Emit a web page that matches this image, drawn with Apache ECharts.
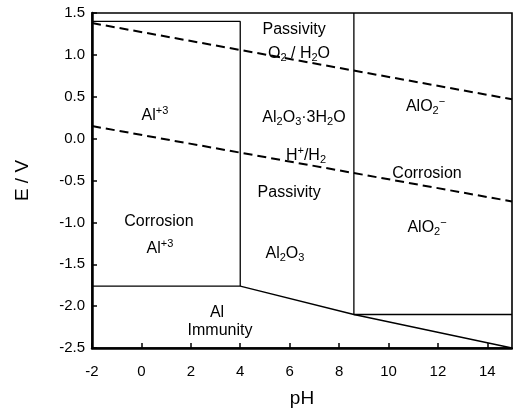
<!DOCTYPE html>
<html>
<head>
<meta charset="utf-8">
<style>
  html, body { margin: 0; padding: 0; background: #fff; }
  #chart { width: 513px; height: 411px; }
</style>
<script src="https://cdn.jsdelivr.net/npm/echarts@6/dist/echarts.min.js"></script>
</head>
<body>
<div id="chart"></div>
<script>
// ---- data (pH, E/V) ----
const xTicksRange = [-2, 15];
const yTicksRange = [-2.5, 1.5];

// solid phase boundaries
const boundaryAl3Box = [[-2, 1.40], [4, 1.40], [4, -1.76]];
const boundaryImmunity = [[-2, -1.76], [4, -1.76], [8.6, -2.10], [15, -2.50]];
const boundaryAlO2Box = [[8.6, 1.50], [8.6, -2.10], [15, -2.10]];

// water stability lines (dashed)
const lineO2H2O = [[-2, 1.38], [15, 0.47]];
const lineHH2 = [[-2, 0.15], [15, -0.75]];

// region labels
const labelTexts = [
  '{n|Al}{sup|+3}',
  '{n|Passivity}',
  '{n|O}{sub|2}{n| / H}{sub|2}{n|O}',
  '{n|Al}{sub|2}{n|O}{sub|3}{n|·3H}{sub|2}{n|O}',
  '{n|H}{sup|+}{n|/H}{sub|2}',
  '{n|Passivity}',
  '{n|AlO}{sub|2}{sup|−}',
  '{n|Corrosion}',
  '{n|AlO}{sub|2}{sup|−}',
  '{n|Al}{sub|2}{n|O}{sub|3}',
  '{n|Corrosion}',
  '{n|Al}{sup|+3}',
  '{n|Al}',
  '{n|Immunity}'
];
const labelX = [0.55, 6.18, 6.38, 6.58, 6.66, 5.98, 11.5, 11.56, 11.56, 5.81, 0.71, 0.75, 3.06, 3.18];
const labelY = [0.28, 1.30, 1.02, 0.25, -0.20, -0.64, 0.38, -0.42, -1.06, -1.37, -0.99, -1.31, -2.08, -2.29];

const FONT = '"Liberation Sans", Arial, Helvetica, sans-serif';

const labelData = labelTexts.map((t, i) => ({ value: [labelX[i], labelY[i]], txt: t }));

const chart = echarts.init(document.getElementById('chart'));
const solid = { color: '#000', width: 1.3, type: 'solid' };
const dashed = { color: '#000', width: 2, type: [9, 5] };

chart.setOption({
  animation: false,
  backgroundColor: '#fff',
  grid: {
    left: 92, right: 1, top: 13, bottom: 63, show: true,
    borderColor: '#000', borderWidth: 1.6,
    containLabel: false, outerBoundsMode: 'none'
  },
  xAxis: {
    type: 'value', min: xTicksRange[0], max: xTicksRange[1], interval: 2,
    name: 'pH', nameLocation: 'middle', nameGap: 41,
    nameTextStyle: { fontSize: 19, color: '#000', fontFamily: FONT },
    axisLine: { onZero: false, lineStyle: { color: '#000', width: 2.5 } },
    axisTick: { inside: true, length: 5, lineStyle: { color: '#000', width: 1.5 } },
    axisLabel: { fontSize: 15, color: '#000', fontFamily: FONT, margin: 16, showMaxLabel: false },
    splitLine: { show: false }
  },
  yAxis: {
    type: 'value', min: yTicksRange[0], max: yTicksRange[1], interval: 0.5,
    name: 'E / V', nameLocation: 'middle', nameGap: 60, nameRotate: 90,
    nameTextStyle: { fontSize: 19, color: '#000', fontFamily: FONT },
    axisLine: { onZero: false, lineStyle: { color: '#000', width: 2.5 } },
    axisTick: { inside: true, length: 5, lineStyle: { color: '#000', width: 1.5 } },
    axisLabel: { fontSize: 15, color: '#000', fontFamily: FONT, margin: 7, formatter: v => v.toFixed(1) },
    splitLine: { show: false }
  },
  series: [
    { type: 'line', data: boundaryAl3Box, symbol: 'none', lineStyle: solid, silent: true },
    { type: 'line', data: boundaryImmunity, symbol: 'none', lineStyle: solid, silent: true },
    { type: 'line', data: boundaryAlO2Box, symbol: 'none', lineStyle: solid, silent: true },
    { type: 'line', data: lineO2H2O, symbol: 'none', lineStyle: dashed, silent: true },
    { type: 'line', data: lineHH2, symbol: 'none', lineStyle: dashed, silent: true },
    {
      type: 'scatter', symbolSize: 0, data: labelData, silent: true,
      itemStyle: { opacity: 1 },
      label: {
        show: true, position: 'inside', color: '#000', opacity: 1, textBorderWidth: 0,
        formatter: p => p.data.txt,
        rich: {
          n: { fontSize: 16, lineHeight: 20, color: '#000', fontFamily: FONT },
          sub: { fontSize: 11, lineHeight: 12, verticalAlign: 'bottom', color: '#000', fontFamily: FONT },
          sup: { fontSize: 11, lineHeight: 12, verticalAlign: 'top', color: '#000', fontFamily: FONT }
        }
      }
    }
  ]
});
</script>
</body>
</html>
